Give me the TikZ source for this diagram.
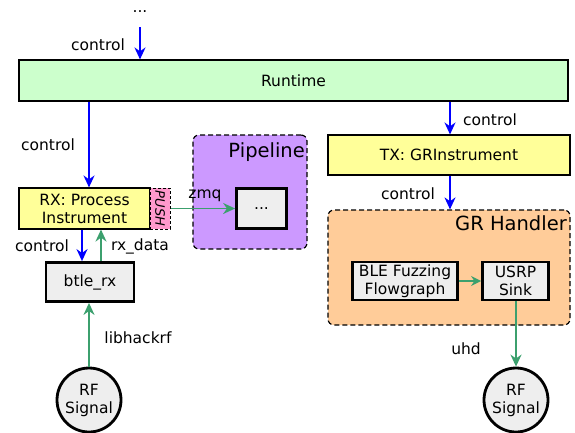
\documentclass[tikz,border=0pt]{standalone}
\usepackage{fontspec}
\setmainfont{DejaVu Sans}
\usetikzlibrary{arrows.meta}
\definecolor{rtgreen}{RGB}{204,255,204}
\definecolor{instyellow}{RGB}{255,255,153}
\definecolor{pipepurple}{RGB}{204,153,255}
\definecolor{grorange}{RGB}{255,204,153}
\definecolor{pushpink}{RGB}{255,153,204}
\definecolor{boxgray}{RGB}{238,238,238}
\definecolor{ctlblue}{RGB}{0,0,255}
\definecolor{datagreen}{RGB}{60,160,110}
\tikzset{
  txt/.style={font=\fontsize{15.5}{18}\selectfont},
  grouptitle/.style={inner sep=0pt, anchor=north east, font=\fontsize{19.5}{22}\selectfont},
  flatbox/.style={draw=black, line width=1.1pt, inner sep=0pt, align=center, txt},
  procbox/.style={draw=black, line width=2.8pt, fill=boxgray, inner sep=0pt, align=center, txt},
  groupbox/.style={draw=black, line width=1.2pt, dash pattern=on 5pt off 3pt, rounded corners=6pt},
  sigcircle/.style={circle, draw=black, line width=2.8pt, fill=boxgray, minimum size=64pt, inner sep=0pt, align=center, txt},
  ctl/.style={draw=ctlblue, line width=1.8pt, -{Stealth[length=12pt,width=11pt]}},
  dat/.style={draw=datagreen, line width=1.8pt, -{Stealth[length=12pt,width=11pt]}},
  lbl/.style={txt, inner sep=0pt},
}
\begin{document}
\begin{tikzpicture}[x=1pt,y=-1pt]
\useasboundingbox (0,0) rectangle (575,432);

% runtime bar
\node[flatbox, fill=rtgreen, minimum width=549pt, minimum height=41pt] (runtime) at (293.5,80.5) {Runtime};
\node[lbl, anchor=base] (dots) at (140,12) {...};
\coordinate (topin) at (140,27);
\draw[ctl] (topin) -- (runtime.north -| topin);
\node[lbl] at (98,45) {control};

% pipeline group
\node[groupbox, fill=pipepurple, minimum width=114pt, minimum height=114pt] (pipe) at (250,192) {};
\node[grouptitle] (pipelbl) at (305,142) {Pipeline};
\node[procbox, fill=boxgray, minimum width=50pt, minimum height=40pt] (pipeinner) at (261.5,208.5) {...};

% RX instrument with PUSH socket
\node[flatbox, fill=instyellow, minimum width=131pt, minimum height=41pt] (rx) at (84.5,208.5) {RX: Process\\Instrument};
\node[draw=black, line width=1pt, dash pattern=on 3pt off 2pt, fill=pushpink, minimum width=20pt, minimum height=41pt, inner sep=0pt] (push) at (160,208.5) {};
\node[rotate=-90, font=\fontsize{13}{15}\selectfont\itshape, inner sep=0pt] at (push.center) {PUSH};
\draw[ctl] (runtime.south -| 89,0) -- (rx.north -| 89,0);
\node[lbl] at (48,145) {control};
\draw[dat] (push.east) -- (pipeinner.west);
\node[lbl] at (205,196) {zmq};

% receiver block
\node[procbox, minimum width=88pt, minimum height=39pt] (btle) at (90,282) {btle\_rx};
\draw[ctl] (rx.south -| 82,0) -- (btle.north -| 82,0);
\draw[dat] (btle.north -| 101,0) -- (rx.south -| 101,0);
\node[lbl] at (42,246) {control};
\node[lbl] at (140,246) {rx\_data};

\node[sigcircle] (rfin) at (89,400) {RF\\Signal};
\draw[dat] (rfin.north) -- (rfin.north |- btle.south);
\node[lbl] at (138,338) {libhackrf};

% TX instrument
\node[flatbox, fill=instyellow, minimum width=242pt, minimum height=40pt] (tx) at (449,155) {TX: GRInstrument};
\draw[ctl] (runtime.south -| 450,0) -- (tx.north -| 450,0);
\node[lbl] at (490,120) {control};

% GR handler group
\node[groupbox, fill=grorange, minimum width=242pt, minimum height=115pt] (grh) at (449,267.5) {};
\node[grouptitle] (grlbl) at (567,215) {GR Handler};
\draw[ctl] (tx.south -| 450,0) -- (grh.north -| 450,0);
\node[lbl] at (408,194) {control};

\node[procbox, minimum width=105pt, minimum height=38pt] (fg) at (405,281) {BLE Fuzzing\\Flowgraph};
\node[procbox, minimum width=66pt, minimum height=38pt] (usrp) at (515.5,281) {USRP\\Sink};
\draw[dat, -{Stealth[length=10pt,width=10pt]}] (fg.east) -- (usrp.west);

\node[sigcircle] (rfout) at (516,400) {RF\\Signal};
\draw[dat] (usrp.south -| rfout.north) -- (rfout.north);
\node[lbl] at (466,349) {uhd};
\end{tikzpicture}
\end{document}
